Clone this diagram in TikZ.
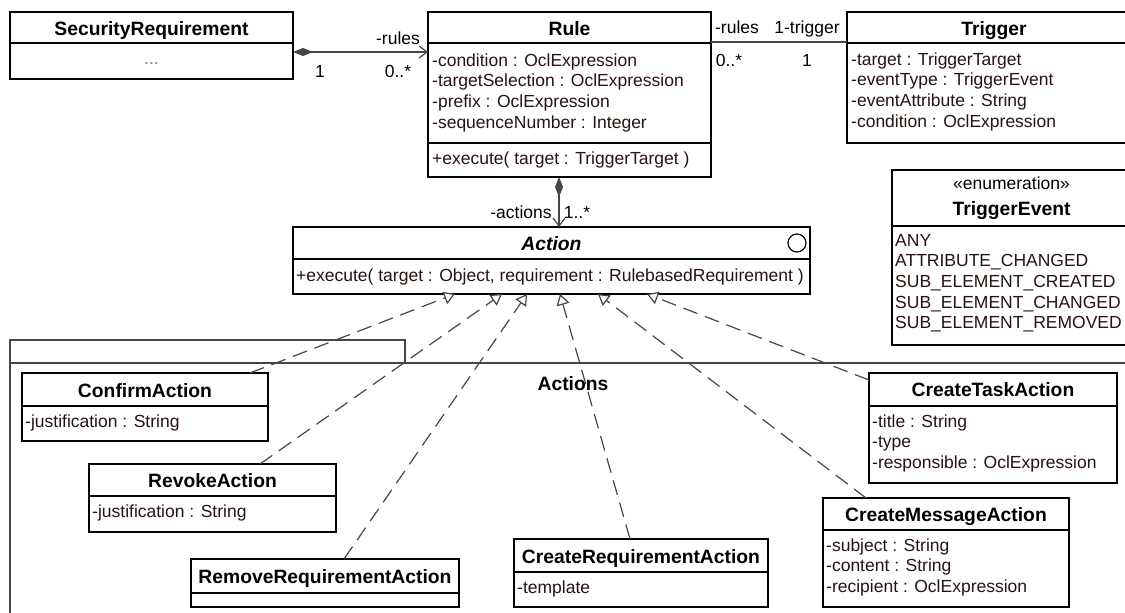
\documentclass[tikz,border=0pt]{standalone}
\usepackage{fontspec}
\setmainfont{Liberation Sans}
\usetikzlibrary{arrows.meta}

\definecolor{membertext}{RGB}{42,18,18}
\definecolor{linkgray}{RGB}{70,70,70}

\tikzset{
  classbox/.style={draw=black, line width=1.5pt, fill=white, anchor=north west, inner sep=0pt, outer sep=0pt},
  pkgbox/.style={draw=linkgray, line width=1.5pt, anchor=north west, inner sep=0pt, outer sep=0pt},
  classline/.style={draw=black, line width=1.5pt},
  classname/.style={font=\fontsize{19.3}{22}\selectfont\bfseries, anchor=base, inner sep=0pt},
  members/.style={font=\fontsize{17.5}{20.7}\selectfont, text=membertext, align=left, anchor=base west, inner sep=0pt},
  rolelabel/.style={font=\fontsize{17.5}{20}\selectfont, anchor=base, inner sep=0pt},
  assoc/.style={draw=linkgray, line width=1.2pt},
  realize/.style={draw=linkgray, line width=1.2pt, dash pattern=on 15pt off 8pt,
    -{Triangle[open, length=11pt, width=13pt, fill=white]}},
  owner/.style={{Diamond[length=20pt, width=8pt, fill=linkgray]}-{Straight Barb[length=8pt, width=12pt]}},
}

\begin{document}
\begin{tikzpicture}[x=1pt,y=-1pt]
\useasboundingbox (0,0) rectangle (1125,613);
\clip (0,0) rectangle (1125,613);

% Package Actions
\node[pkgbox, minimum width=395pt, minimum height=23pt] (pkgtab) at (10,340) {};
\node[pkgbox, minimum width=1126pt, minimum height=290pt] (pkg) at (10,363) {};
\node[classname] (pkgname) at (573,390) {Actions};

% Security Requirement
\node[classbox, minimum width=283pt, minimum height=67pt] (secreq) at (10,12) {};
\draw[classline] (secreq.west |- 0,43) -- (secreq.east |- 0,43);
\node[classname] (secreqname) at (secreq.north |- 0,35) {SecurityRequirement};
\node[members, anchor=base, text=gray] (secreqdots) at (secreq.north |- 0,64) {...};

% Rule (multi-line members sit on the baseline of their last line)
\node[classbox, minimum width=283pt, minimum height=165pt] (rule) at (428,12) {};
\draw[classline] (rule.west |- 0,43) -- (rule.east |- 0,43);
\draw[classline] (rule.west |- 0,143) -- (rule.east |- 0,143);
\node[classname] (rulename) at (rule.north |- 0,35) {Rule};
\node[members] (ruleattr) at (432,128.1) {-condition : OclExpression\\-targetSelection : OclExpression\\-prefix : OclExpression\\-sequenceNumber : Integer};
\node[members] (ruleop) at (432,164) {+execute( target : TriggerTarget )};

% Trigger
\node[classbox, minimum width=294pt, minimum height=131pt] (trigger) at (847,12) {};
\draw[classline] (trigger.west |- 0,43) -- (trigger.east |- 0,43);
\node[classname] (triggername) at (trigger.north |- 0,35) {Trigger};
\node[members] (triggerattr) at (851,127.1) {-target : TriggerTarget\\-eventType : TriggerEvent\\-eventAttribute : String\\-condition : OclExpression};

% Trigger Event
\node[classbox, minimum width=239pt, minimum height=175pt] (triggerevent) at (892,170) {};
\draw[classline] (triggerevent.west |- 0,226) -- (triggerevent.east |- 0,226);
\node[rolelabel] (triggereventstereo) at (triggerevent.north |- 0,189) {«enumeration»};
\node[classname] (triggereventname) at (triggerevent.north |- 0,215) {TriggerEvent};
\node[members] (triggereventlits) at (895,328.8) {ANY\\ATTRIBUTE\_CHANGED\\SUB\_ELEMENT\_CREATED\\SUB\_ELEMENT\_CHANGED\\SUB\_ELEMENT\_REMOVED};

% Action
\node[classbox, minimum width=517pt, minimum height=67pt] (action) at (293,227) {};
\draw[classline] (action.west |- 0,259) -- (action.east |- 0,259);
\node[classname, font=\fontsize{19.3}{22}\selectfont\bfseries\itshape] (actionname) at (action.north |- 0,250) {Action};
\node[circle, draw=black, line width=1.2pt, minimum size=18pt, inner sep=0pt] (actionicon) at (797,243) {};
\node[members] (actionop) at (296,281) {+execute( target : Object, requirement : RulebasedRequirement )};

% Confirm Action
\node[classbox, minimum width=246pt, minimum height=68pt] (confirm) at (22,373) {};
\draw[classline] (confirm.west |- 0,406) -- (confirm.east |- 0,406);
\node[classname] (confirmname) at (confirm.north |- 0,397) {ConfirmAction};
\node[members] (confirmattr) at (25,427) {-justification : String};

% Revoke Action
\node[classbox, minimum width=247pt, minimum height=68pt] (revoke) at (89,464) {};
\draw[classline] (revoke.west |- 0,496) -- (revoke.east |- 0,496);
\node[classname] (revokename) at (revoke.north |- 0,487) {RevokeAction};
\node[members] (revokeattr) at (92,517) {-justification : String};

% Remove Requirement Action
\node[classbox, minimum width=268pt, minimum height=48pt] (removereq) at (191,559) {};
\draw[classline] (removereq.west |- 0,593) -- (removereq.east |- 0,593);
\node[classname] (removereqname) at (removereq.north |- 0,583) {RemoveRequirementAction};

% Create Requirement Action
\node[classbox, minimum width=254pt, minimum height=68pt] (createreq) at (514,539) {};
\draw[classline] (createreq.west |- 0,572) -- (createreq.east |- 0,572);
\node[classname] (createreqname) at (createreq.north |- 0,563) {CreateRequirementAction};
\node[members] (createreqattr) at (517,593) {-template};

% Create Message Action
\node[classbox, minimum width=246pt, minimum height=109pt] (createmsg) at (823,498) {};
\draw[classline] (createmsg.west |- 0,530) -- (createmsg.east |- 0,530);
\node[classname] (createmsgname) at (createmsg.north |- 0,521) {CreateMessageAction};
\node[members] (createmsgattr) at (826,592.4) {-subject : String\\-content : String\\-recipient : OclExpression};

% Create Task Action
\node[classbox, minimum width=248pt, minimum height=110pt] (createtask) at (869,373) {};
\draw[classline] (createtask.west |- 0,406) -- (createtask.east |- 0,406);
\node[classname] (createtaskname) at (createtask.north |- 0,396) {CreateTaskAction};
\node[members] (createtaskattr) at (872,468.4) {-title : String\\-type\\-responsible : OclExpression};

% Associations
\draw[assoc, owner] (secreq.east |- 0,52) -- (rule.west |- 0,52);
\node[rolelabel] (secreqrole) at (398,44) {-rules};
\node[rolelabel] (secreqone) at (320,77) {1};
\node[rolelabel] (secreqmany) at (398,77) {0..*};

\draw[assoc] (rule.east |- 0,42) -- (trigger.west |- 0,42);
\node[rolelabel] (triggerrules) at (737,33) {-rules};
\node[rolelabel] (triggerrole) at (807,33) {1-trigger};
\node[rolelabel] (triggermany) at (729,66) {0..*};
\node[rolelabel] (triggerone) at (807,66) {1};

\draw[assoc, owner] ([xshift=131pt]rule.south west) -- ([xshift=266pt]action.north west);
\node[rolelabel] (actionsrole) at (521,218) {-actions};
\node[rolelabel] (actionsmany) at (577,218) {1..*};

% Realizations
\draw[realize] ([xshift=228pt]confirm.north west) -- ([xshift=162pt]action.south west);
\draw[realize] ([xshift=171pt]revoke.north west) -- ([xshift=209pt]action.south west);
\draw[realize] ([xshift=153pt]removereq.north west) -- ([xshift=234pt]action.south west);
\draw[realize] ([xshift=116pt]createreq.north west) -- ([xshift=267pt]action.south west);
\draw[realize] ([xshift=43pt]createmsg.north west) -- ([xshift=305pt]action.south west);
\draw[realize] ([yshift=-7pt]createtask.north west) -- ([xshift=354pt]action.south west);

\end{tikzpicture}
\end{document}
